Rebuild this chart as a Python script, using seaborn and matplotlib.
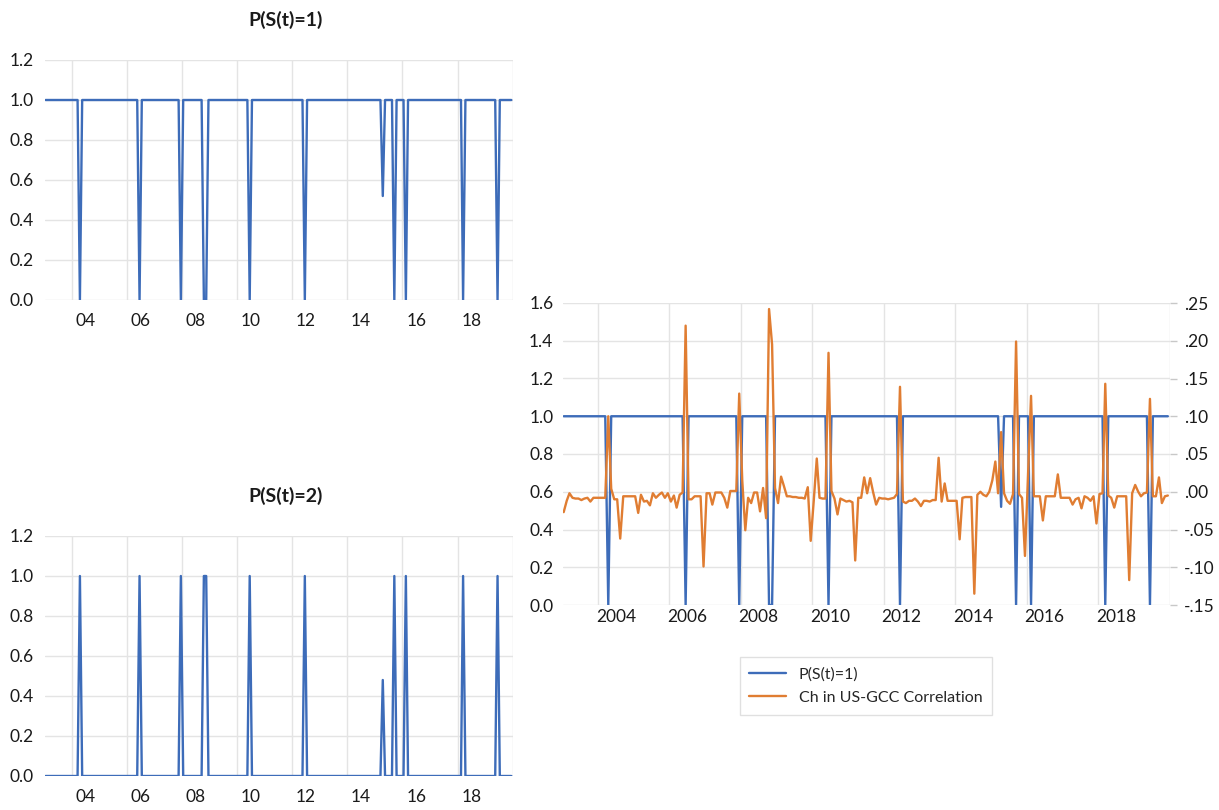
import pandas as pd
import seaborn as sns
import matplotlib.pyplot as plt
import matplotlib.dates as mdates
from matplotlib.ticker import FuncFormatter, MultipleLocator, NullFormatter

# --- DATA: monthly, 2003M01 - 2019M12 (one row per year) ---
p1 = [
    1, 1, 1, 1, 1, 1, 1, 1, 1, 1, 1, 1,          # 2003
    1, 1, 1, 0, 1, 1, 1, 1, 1, 1, 1, 1,          # 2004
    1, 1, 1, 1, 1, 1, 1, 1, 1, 1, 1, 1,          # 2005
    1, 1, 1, 1, 1, 0, 1, 1, 1, 1, 1, 1,          # 2006
    1, 1, 1, 1, 1, 1, 1, 1, 1, 1, 1, 0,          # 2007
    1, 1, 1, 1, 1, 1, 1, 1, 1, 0, 0, 1,          # 2008
    1, 1, 1, 1, 1, 1, 1, 1, 1, 1, 1, 1,          # 2009
    1, 1, 1, 1, 1, 0, 1, 1, 1, 1, 1, 1,          # 2010
    1, 1, 1, 1, 1, 1, 1, 1, 1, 1, 1, 1,          # 2011
    1, 1, 1, 1, 1, 0, 1, 1, 1, 1, 1, 1,          # 2012
    1, 1, 1, 1, 1, 1, 1, 1, 1, 1, 1, 1,          # 2013
    1, 1, 1, 1, 1, 1, 1, 1, 1, 1, 1, 1,          # 2014
    1, 1, 1, 0.52, 1, 1, 1, 1, 0, 1, 1, 1,       # 2015
    1, 0, 1, 1, 1, 1, 1, 1, 1, 1, 1, 1,          # 2016
    1, 1, 1, 1, 1, 1, 1, 1, 1, 1, 1, 1,          # 2017
    1, 1, 0, 1, 1, 1, 1, 1, 1, 1, 1, 1,          # 2018
    1, 1, 1, 1, 1, 0, 1, 1, 1, 1, 1, 1,          # 2019
]

p2 = [
    0, 0, 0, 0, 0, 0, 0, 0, 0, 0, 0, 0,          # 2003
    0, 0, 0, 1, 0, 0, 0, 0, 0, 0, 0, 0,          # 2004
    0, 0, 0, 0, 0, 0, 0, 0, 0, 0, 0, 0,          # 2005
    0, 0, 0, 0, 0, 1, 0, 0, 0, 0, 0, 0,          # 2006
    0, 0, 0, 0, 0, 0, 0, 0, 0, 0, 0, 1,          # 2007
    0, 0, 0, 0, 0, 0, 0, 0, 0, 1, 1, 0,          # 2008
    0, 0, 0, 0, 0, 0, 0, 0, 0, 0, 0, 0,          # 2009
    0, 0, 0, 0, 0, 1, 0, 0, 0, 0, 0, 0,          # 2010
    0, 0, 0, 0, 0, 0, 0, 0, 0, 0, 0, 0,          # 2011
    0, 0, 0, 0, 0, 1, 0, 0, 0, 0, 0, 0,          # 2012
    0, 0, 0, 0, 0, 0, 0, 0, 0, 0, 0, 0,          # 2013
    0, 0, 0, 0, 0, 0, 0, 0, 0, 0, 0, 0,          # 2014
    0, 0, 0, 0.48, 0, 0, 0, 0, 1, 0, 0, 0,       # 2015
    0, 1, 0, 0, 0, 0, 0, 0, 0, 0, 0, 0,          # 2016
    0, 0, 0, 0, 0, 0, 0, 0, 0, 0, 0, 0,          # 2017
    0, 0, 1, 0, 0, 0, 0, 0, 0, 0, 0, 0,          # 2018
    0, 0, 0, 0, 0, 1, 0, 0, 0, 0, 0, 0,          # 2019
]

# change in US-GCC correlation
corr = [
    -0.027, -0.012, -0.002, -0.008, -0.009, -0.009, -0.011, -0.009, -0.008, -0.013, -0.008, -0.008,  # 2003
    -0.008, -0.008, -0.008, 0.100, 0.004, -0.010, -0.010, -0.062, -0.006, -0.006, -0.006, -0.006,    # 2004
    -0.006, -0.028, -0.004, -0.013, -0.012, -0.018, -0.002, -0.008, -0.004, -0.001, -0.008, -0.002,  # 2005
    -0.013, -0.005, -0.021, -0.004, -0.001, 0.220, -0.010, -0.010, -0.006, -0.006, -0.006, -0.099,   # 2006
    -0.002, -0.002, -0.017, -0.001, -0.001, -0.001, -0.008, -0.021, 0.001, 0.001, 0.001, 0.130,      # 2007
    0.015, -0.051, -0.008, -0.015, -0.001, -0.001, -0.026, 0.005, -0.035, 0.242, 0.195, 0.005,       # 2008
    -0.015, 0.020, 0.008, -0.006, -0.006, -0.007, -0.007, -0.008, -0.008, -0.009, 0.006, -0.065,     # 2009
    -0.012, 0.044, -0.008, -0.009, -0.009, 0.184, 0.001, -0.009, -0.030, -0.009, -0.011, -0.013,     # 2010
    -0.012, -0.014, -0.091, -0.008, -0.008, 0.019, -0.002, 0.018, -0.001, -0.017, -0.008, -0.009,    # 2011
    -0.009, -0.010, -0.009, -0.008, -0.003, 0.139, -0.013, -0.015, -0.012, -0.012, -0.009, -0.013,   # 2012
    -0.019, -0.012, -0.012, -0.013, -0.011, -0.011, 0.045, -0.013, 0.011, -0.012, -0.012, -0.012,    # 2013
    -0.012, -0.063, -0.008, -0.007, -0.007, -0.007, -0.135, -0.004, 0.000, -0.004, -0.006, 0.000,    # 2014
    0.015, 0.040, -0.002, 0.079, -0.002, -0.012, -0.016, -0.003, 0.199, -0.003, -0.008, -0.085,      # 2015
    0.020, 0.127, -0.006, -0.006, -0.006, -0.038, -0.006, -0.006, -0.006, -0.006, 0.023, -0.008,     # 2016
    -0.008, -0.008, -0.008, -0.017, -0.010, -0.008, -0.022, -0.006, -0.008, -0.012, -0.006, -0.042,  # 2017
    -0.003, -0.002, 0.143, -0.005, -0.008, -0.021, -0.006, -0.006, -0.006, -0.006, -0.117, -0.002,   # 2018
    0.009, 0.000, -0.006, -0.002, -0.001, 0.123, -0.006, -0.006, 0.019, -0.015, -0.006, -0.005,      # 2019
]

dates = pd.date_range("2003-01-01", "2019-12-01", freq="MS") + pd.Timedelta(days=14)
df = pd.DataFrame({"date": dates, "p1": p1, "p2": p2, "corr": corr})

# --- STYLE ---
sns.set_theme(style="white")
plt.rcParams["font.family"] = ["Lato", "DejaVu Sans"]

BLUE = "#3D6CB9"
ORANGE = "#E07D32"
GRID = "#E4E4E4"
TXT = "#1A1A1A"
FS = 12.5


def time_axis(ax, fmt, pad):
    ax.set_xlim(pd.Timestamp("2003-01-08"), pd.Timestamp("2020-01-06"))
    ax.xaxis.set_major_locator(mdates.YearLocator(2, month=1, day=1))
    ax.xaxis.set_major_formatter(NullFormatter())
    ax.xaxis.set_minor_locator(mdates.YearLocator(2, month=7, day=1))
    ax.xaxis.set_minor_formatter(mdates.DateFormatter(fmt))
    ax.tick_params(axis="x", which="both", length=0, pad=pad, labelsize=FS, colors=TXT)
    ax.grid(axis="x", which="major", color=GRID, lw=1)
    ax.grid(axis="y", color=GRID, lw=1)
    ax.set_axisbelow(True)
    for s in ax.spines.values():
        s.set_visible(False)
    ax.set_xlabel("")
    ax.set_ylabel("")


fig = plt.figure(figsize=(12.19, 8.10), dpi=100)

# --- LEFT PANELS ---
for col, top, title in [("p1", 60, "P(S(t)=1)"), ("p2", 536, "P(S(t)=2)")]:
    ax = fig.add_axes([45 / 1219, 1 - (top + 240) / 810, 468 / 1219, 240 / 810])
    sns.lineplot(data=df, x="date", y=col, ax=ax, color=BLUE, lw=1.7, legend=False)
    ax.set_ylim(0, 1.2)
    ax.yaxis.set_major_locator(MultipleLocator(0.2))
    ax.yaxis.set_major_formatter(FuncFormatter(lambda v, p: f"{v:.1f}"))
    ax.tick_params(axis="y", length=0, pad=8, labelsize=FS, colors=TXT)
    time_axis(ax, "%y", 9)
    fig.text(286 / 1219, 1 - (top - 40) / 810, title, ha="center", va="center",
             fontsize=14, fontweight="bold", color=TXT)

# --- RIGHT PANEL (dual axis) ---
ax = fig.add_axes([563 / 1219, 1 - 605 / 810, 607 / 1219, 302 / 810])
sns.lineplot(data=df, x="date", y="p1", ax=ax, color=BLUE, lw=1.7, legend=False)
ax.set_ylim(0, 1.6)
ax.yaxis.set_major_locator(MultipleLocator(0.2))
ax.yaxis.set_major_formatter(FuncFormatter(lambda v, p: f"{v:.1f}"))
ax.tick_params(axis="y", length=0, pad=7, labelsize=FS, colors=TXT)
time_axis(ax, "%Y", 3)

ax2 = ax.twinx()
sns.lineplot(data=df, x="date", y="corr", ax=ax2, color=ORANGE, lw=1.7, legend=False)
ax2.set_ylim(-0.15, 0.25)
ax2.yaxis.set_major_locator(MultipleLocator(0.05))
ax2.yaxis.set_major_formatter(FuncFormatter(lambda v, p: f"{v:.2f}".replace("0.", ".")))
ax2.tick_params(axis="y", length=5, width=1, pad=5, labelsize=FS, colors=TXT)
ax2.tick_params(axis="y", color="#C8C8C8")
ax2.grid(False)
ax2.set_ylabel("")
for s in ax2.spines.values():
    s.set_visible(False)

l1 = ax.get_lines()[0]
l2 = ax2.get_lines()[0]
leg = fig.legend([l1, l2], ["P(S(t)=1)", "Ch in US-GCC Correlation"],
                 loc="center", bbox_to_anchor=(866 / 1219, 1 - 686 / 810),
                 fontsize=11.5, frameon=True, fancybox=False, edgecolor="#D9D9D9",
                 handlelength=2.3, labelspacing=0.6, borderpad=0.6)
leg.get_frame().set_linewidth(1)

plt.savefig("out.png", dpi=100)
